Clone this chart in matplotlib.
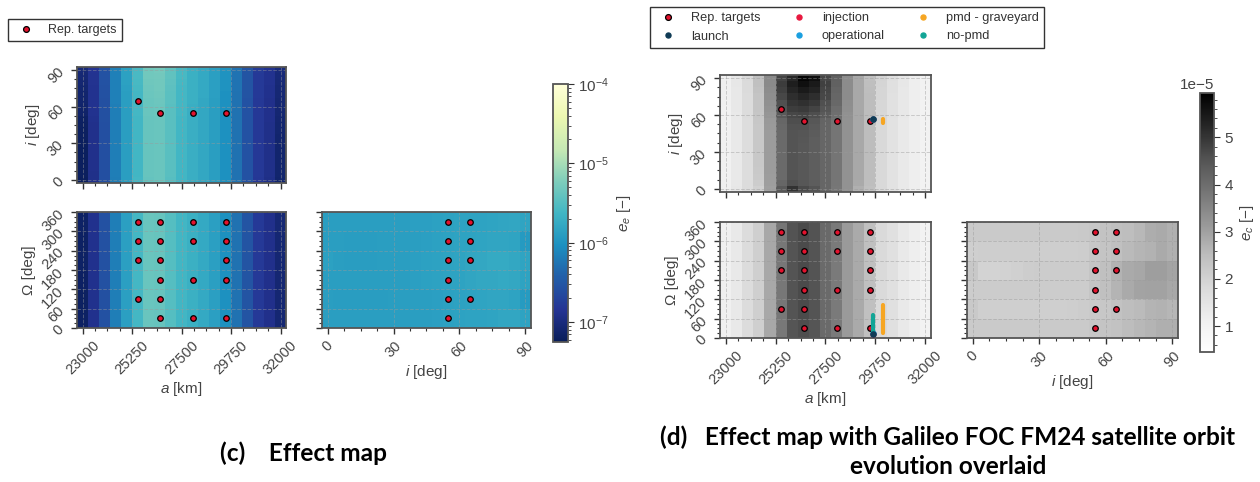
import numpy as np
import matplotlib
matplotlib.use("Agg")
import matplotlib.pyplot as plt
from matplotlib.colors import LogNorm, Normalize
from matplotlib.ticker import AutoMinorLocator
from matplotlib.lines import Line2D

# ---------------- data ----------------
A_KM = [23000, 23500, 24000, 24500, 25000, 25500, 26000, 26500, 27000, 27500,
        28000, 28500, 29000, 29500, 30000, 30500, 31000, 31500, 32000]
INC_DEG = [0, 5, 10, 15, 20, 25, 30, 35, 40, 45, 50, 55, 60, 65, 70, 75, 80, 85, 90]
RAAN_DEG = [30, 90, 150, 210, 270, 330]

A_TICKS = [23000, 25250, 27500, 29750, 32000]
I_TICKS = [0, 30, 60, 90]
RAAN_TICKS = [0, 60, 120, 180, 240, 300, 360]

# representative targets
REP_AI_A = [25508, 26510, 28000, 29520]
REP_AI_I = [64.8, 55.0, 55.0, 55.0]
REP_AO_A = [25508, 25508, 25508, 25508,
            26510, 26510, 26510, 26510, 26510, 26510,
            28000, 28000, 28000, 28000,
            29520, 29520, 29520, 29520, 29520]
REP_AO_O = [90, 210, 270, 330,
            30, 90, 150, 210, 270, 330,
            30, 150, 270, 330,
            30, 150, 210, 270, 330]
REP_IO_I = [55, 55, 55, 55, 55, 55, 64.8, 64.8, 64.8, 64.8]
REP_IO_O = [30, 90, 150, 210, 270, 330, 90, 210, 270, 330]

# (c) effect map, log10(e_e); rows = inclination (0..90), cols = a
EE_AI_LOG = [
    [-7.22, -6.91, -6.58, -6.19, -5.89, -5.61, -5.39, -5.37, -5.48, -5.62, -5.71, -5.78, -5.88, -6.03, -6.28, -6.55, -6.81, -6.92, -7.12],
    [-7.21, -6.91, -6.58, -6.18, -5.89, -5.62, -5.38, -5.36, -5.47, -5.62, -5.71, -5.78, -5.88, -6.02, -6.28, -6.54, -6.80, -6.91, -7.11],
    [-7.21, -6.90, -6.58, -6.18, -5.89, -5.62, -5.38, -5.36, -5.47, -5.62, -5.71, -5.78, -5.88, -6.02, -6.28, -6.54, -6.80, -6.91, -7.10],
    [-7.21, -6.90, -6.58, -6.18, -5.89, -5.62, -5.38, -5.36, -5.47, -5.62, -5.71, -5.78, -5.88, -6.02, -6.28, -6.54, -6.80, -6.91, -7.10],
    [-7.20, -6.90, -6.58, -6.18, -5.89, -5.62, -5.38, -5.36, -5.47, -5.62, -5.71, -5.78, -5.88, -6.02, -6.28, -6.54, -6.80, -6.91, -7.10],
    [-7.20, -6.90, -6.58, -6.18, -5.89, -5.62, -5.38, -5.36, -5.47, -5.62, -5.71, -5.78, -5.88, -6.02, -6.28, -6.54, -6.80, -6.91, -7.10],
    [-7.20, -6.90, -6.58, -6.18, -5.89, -5.62, -5.38, -5.36, -5.47, -5.62, -5.71, -5.78, -5.88, -6.02, -6.28, -6.54, -6.80, -6.91, -7.10],
    [-7.19, -6.90, -6.58, -6.18, -5.89, -5.62, -5.38, -5.36, -5.47, -5.62, -5.71, -5.78, -5.88, -6.02, -6.28, -6.54, -6.80, -6.91, -7.10],
    [-7.19, -6.90, -6.58, -6.18, -5.89, -5.62, -5.38, -5.36, -5.47, -5.62, -5.71, -5.78, -5.88, -6.02, -6.28, -6.54, -6.80, -6.91, -7.09],
    [-7.18, -6.90, -6.58, -6.18, -5.89, -5.62, -5.38, -5.36, -5.47, -5.62, -5.71, -5.78, -5.88, -6.02, -6.28, -6.54, -6.80, -6.91, -7.09],
    [-7.17, -6.89, -6.57, -6.18, -5.89, -5.62, -5.38, -5.36, -5.47, -5.62, -5.71, -5.78, -5.88, -6.02, -6.28, -6.54, -6.80, -6.90, -7.08],
    [-7.13, -6.88, -6.57, -6.18, -5.89, -5.61, -5.37, -5.35, -5.46, -5.61, -5.71, -5.78, -5.88, -6.02, -6.28, -6.54, -6.80, -6.90, -7.07],
    [-7.12, -6.88, -6.57, -6.18, -5.89, -5.61, -5.37, -5.35, -5.46, -5.61, -5.71, -5.78, -5.88, -6.02, -6.28, -6.54, -6.80, -6.90, -7.07],
    [-7.11, -6.88, -6.57, -6.17, -5.88, -5.60, -5.36, -5.34, -5.45, -5.61, -5.70, -5.78, -5.88, -6.02, -6.28, -6.54, -6.80, -6.90, -7.06],
    [-7.10, -6.87, -6.56, -6.17, -5.88, -5.60, -5.35, -5.33, -5.45, -5.60, -5.70, -5.77, -5.87, -6.02, -6.28, -6.53, -6.79, -6.89, -7.05],
    [-7.09, -6.87, -6.56, -6.17, -5.87, -5.59, -5.34, -5.32, -5.44, -5.60, -5.70, -5.77, -5.87, -6.01, -6.27, -6.53, -6.79, -6.89, -7.05],
    [-7.07, -6.86, -6.55, -6.16, -5.86, -5.58, -5.33, -5.31, -5.43, -5.59, -5.69, -5.77, -5.87, -6.01, -6.27, -6.53, -6.79, -6.88, -7.04],
    [-7.05, -6.86, -6.55, -6.16, -5.86, -5.57, -5.32, -5.30, -5.42, -5.58, -5.69, -5.77, -5.87, -6.01, -6.27, -6.53, -6.79, -6.88, -7.03],
    [-7.04, -6.85, -6.55, -6.16, -5.86, -5.57, -5.31, -5.29, -5.42, -5.58, -5.69, -5.77, -5.87, -6.01, -6.27, -6.53, -6.78, -6.88, -7.02],
]
# rows = RAAN (30..330), cols = a
EE_AO_LOG = [
    [-7.17, -6.89, -6.56, -6.18, -5.87, -5.60, -5.37, -5.38, -5.49, -5.62, -5.70, -5.77, -5.87, -6.02, -6.28, -6.53, -6.79, -6.90, -7.06],
    [-7.18, -6.89, -6.57, -6.18, -5.87, -5.60, -5.37, -5.38, -5.49, -5.62, -5.70, -5.77, -5.87, -6.02, -6.28, -6.53, -6.79, -6.90, -7.07],
    [-7.17, -6.89, -6.56, -6.18, -5.87, -5.60, -5.37, -5.38, -5.49, -5.62, -5.70, -5.77, -5.87, -6.02, -6.28, -6.53, -6.79, -6.90, -7.06],
    [-7.16, -6.89, -6.56, -6.18, -5.87, -5.60, -5.37, -5.38, -5.49, -5.62, -5.70, -5.77, -5.87, -6.02, -6.28, -6.53, -6.79, -6.90, -7.06],
    [-7.17, -6.89, -6.56, -6.18, -5.87, -5.60, -5.37, -5.38, -5.49, -5.62, -5.70, -5.77, -5.87, -6.02, -6.28, -6.53, -6.79, -6.90, -7.06],
    [-7.16, -6.89, -6.56, -6.18, -5.87, -5.60, -5.37, -5.38, -5.49, -5.62, -5.70, -5.77, -5.87, -6.02, -6.28, -6.53, -6.79, -6.90, -7.05],
]
# rows = RAAN (30..330), cols = inclination
EE_IO_LOG = [
    [-5.88, -5.88, -5.89, -5.89, -5.89, -5.89, -5.89, -5.89, -5.88, -5.88, -5.87, -5.86, -5.85, -5.84, -5.83, -5.82, -5.80, -5.80, -5.84],
    [-5.89, -5.90, -5.90, -5.90, -5.90, -5.90, -5.89, -5.89, -5.88, -5.88, -5.87, -5.86, -5.85, -5.84, -5.82, -5.81, -5.81, -5.83, -5.92],
    [-5.88, -5.89, -5.89, -5.89, -5.89, -5.89, -5.88, -5.88, -5.87, -5.86, -5.85, -5.84, -5.83, -5.81, -5.79, -5.78, -5.77, -5.78, -5.84],
    [-5.86, -5.88, -5.90, -5.90, -5.90, -5.89, -5.89, -5.88, -5.87, -5.86, -5.85, -5.84, -5.82, -5.80, -5.78, -5.76, -5.76, -5.78, -5.82],
    [-5.89, -5.89, -5.90, -5.90, -5.90, -5.89, -5.89, -5.88, -5.88, -5.87, -5.86, -5.85, -5.84, -5.83, -5.82, -5.81, -5.81, -5.82, -5.93],
    [-5.88, -5.88, -5.89, -5.89, -5.89, -5.89, -5.88, -5.88, -5.87, -5.87, -5.86, -5.85, -5.84, -5.83, -5.83, -5.82, -5.81, -5.80, -5.82],
]
EE_RANGE = [10 ** -7.25, 1e-4]

# (d) effect map, e_c in units of 1e-5; rows = inclination (0..90), cols = a
EC_AI_E5 = [
    [1.14, 1.40, 1.75, 2.04, 3.02, 4.40, 5.04, 4.69, 4.51, 4.15, 3.80, 3.27, 2.74, 2.44, 1.84, 1.55, 1.37, 1.20, 1.04],
    [1.12, 1.38, 1.72, 2.15, 3.05, 4.15, 4.60, 4.45, 4.35, 4.15, 3.82, 3.27, 2.84, 2.48, 1.84, 1.55, 1.37, 1.20, 1.04],
    [1.10, 1.37, 1.70, 2.20, 3.08, 4.07, 4.51, 4.42, 4.32, 4.15, 3.84, 3.27, 2.88, 2.51, 1.84, 1.55, 1.37, 1.20, 1.04],
    [1.10, 1.37, 1.70, 2.22, 3.10, 4.07, 4.51, 4.42, 4.32, 4.15, 3.84, 3.27, 2.88, 2.51, 1.84, 1.55, 1.37, 1.20, 1.04],
    [1.10, 1.37, 1.70, 2.24, 3.10, 4.07, 4.51, 4.42, 4.32, 4.15, 3.84, 3.27, 2.88, 2.51, 1.84, 1.55, 1.37, 1.20, 1.04],
    [1.10, 1.37, 1.70, 2.24, 3.10, 4.07, 4.51, 4.42, 4.32, 4.15, 3.84, 3.27, 2.88, 2.51, 1.84, 1.55, 1.37, 1.20, 1.04],
    [1.10, 1.37, 1.70, 2.24, 3.10, 4.07, 4.51, 4.42, 4.32, 4.15, 3.84, 3.27, 2.88, 2.51, 1.84, 1.55, 1.37, 1.20, 1.04],
    [1.10, 1.37, 1.70, 2.24, 3.10, 4.07, 4.51, 4.42, 4.32, 4.15, 3.84, 3.27, 2.88, 2.51, 1.84, 1.55, 1.37, 1.20, 1.04],
    [1.10, 1.37, 1.70, 2.24, 3.10, 4.07, 4.51, 4.44, 4.33, 4.15, 3.84, 3.27, 2.88, 2.51, 1.84, 1.55, 1.37, 1.20, 1.04],
    [1.10, 1.37, 1.70, 2.24, 3.10, 4.07, 4.52, 4.48, 4.36, 4.15, 3.84, 3.27, 2.88, 2.51, 1.84, 1.55, 1.37, 1.20, 1.04],
    [1.10, 1.37, 1.70, 2.24, 3.12, 4.10, 4.56, 4.55, 4.40, 4.17, 3.85, 3.27, 2.88, 2.51, 1.84, 1.55, 1.37, 1.20, 1.04],
    [1.10, 1.37, 1.71, 2.26, 3.15, 4.15, 4.63, 4.63, 4.44, 4.20, 3.88, 3.28, 2.88, 2.51, 1.85, 1.56, 1.37, 1.20, 1.04],
    [1.11, 1.37, 1.72, 2.28, 3.20, 4.40, 4.72, 4.77, 4.63, 4.40, 3.95, 3.30, 2.88, 2.51, 1.86, 1.57, 1.38, 1.20, 1.05],
    [1.11, 1.38, 1.73, 2.30, 3.25, 4.50, 4.87, 4.93, 4.78, 4.50, 4.00, 3.33, 2.88, 2.51, 1.87, 1.58, 1.38, 1.21, 1.05],
    [1.12, 1.38, 1.74, 2.32, 3.30, 4.60, 5.00, 5.08, 4.96, 4.60, 4.10, 3.36, 2.88, 2.51, 1.88, 1.59, 1.38, 1.21, 1.05],
    [1.12, 1.39, 1.75, 2.35, 3.35, 4.72, 5.12, 5.25, 5.12, 4.72, 4.15, 3.39, 2.88, 2.51, 1.89, 1.60, 1.39, 1.21, 1.05],
    [1.13, 1.39, 1.76, 2.40, 3.40, 4.84, 5.24, 5.46, 5.31, 4.77, 4.20, 3.40, 2.88, 2.48, 1.90, 1.61, 1.39, 1.22, 1.05],
    [1.13, 1.40, 1.77, 2.44, 3.43, 4.90, 5.38, 5.64, 5.46, 4.84, 4.25, 3.40, 2.88, 2.46, 1.92, 1.62, 1.40, 1.22, 1.06],
    [1.14, 1.40, 1.78, 2.44, 3.43, 4.77, 5.21, 5.85, 5.64, 4.72, 4.28, 3.39, 2.88, 2.44, 1.94, 1.63, 1.40, 1.22, 1.06],
]
# rows = RAAN (30..330), cols = a
EC_AO_E5 = [
    [1.14, 1.37, 1.75, 2.06, 2.88, 3.78, 4.50, 4.62, 4.49, 4.07, 3.75, 3.12, 2.85, 2.44, 1.79, 1.62, 1.37, 1.20, 1.04],
    [1.14, 1.37, 1.75, 2.06, 2.88, 3.80, 4.51, 4.66, 4.51, 4.07, 3.75, 3.12, 2.85, 2.44, 1.79, 1.62, 1.37, 1.20, 1.04],
    [1.14, 1.37, 1.75, 2.06, 2.88, 3.80, 4.51, 4.66, 4.51, 4.07, 3.75, 3.12, 2.85, 2.44, 1.79, 1.62, 1.37, 1.20, 1.04],
    [1.14, 1.37, 1.75, 2.06, 2.88, 3.80, 4.51, 4.66, 4.51, 4.07, 3.75, 3.12, 2.85, 2.44, 1.79, 1.62, 1.37, 1.20, 1.04],
    [1.14, 1.37, 1.75, 2.06, 2.88, 3.80, 4.51, 4.66, 4.51, 4.07, 3.75, 3.12, 2.85, 2.44, 1.79, 1.62, 1.37, 1.20, 1.04],
    [1.14, 1.37, 1.75, 2.06, 2.88, 3.82, 4.53, 4.68, 4.53, 4.09, 3.76, 3.12, 2.85, 2.44, 1.79, 1.62, 1.37, 1.20, 1.04],
]
# rows = RAAN (30..330), cols = inclination
EC_IO_E5 = [
    [2.19, 2.19, 2.19, 2.19, 2.19, 2.19, 2.19, 2.19, 2.19, 2.19, 2.19, 2.27, 2.34, 2.40, 2.52, 2.60, 2.68, 2.76, 2.76],
    [2.22, 2.06, 2.06, 2.06, 2.06, 2.06, 2.06, 2.06, 2.06, 2.08, 2.14, 2.20, 2.26, 2.40, 2.48, 2.55, 2.66, 2.72, 2.62],
    [2.14, 2.14, 2.14, 2.14, 2.14, 2.14, 2.14, 2.14, 2.14, 2.14, 2.16, 2.30, 2.44, 2.66, 2.84, 2.96, 3.00, 3.00, 2.88],
    [2.24, 1.98, 1.98, 2.00, 2.04, 2.12, 2.14, 2.14, 2.14, 2.14, 2.16, 2.30, 2.44, 2.70, 2.84, 2.90, 3.06, 3.06, 2.94],
    [2.06, 2.08, 2.08, 2.08, 2.08, 2.08, 2.08, 2.08, 2.08, 2.08, 2.12, 2.26, 2.34, 2.44, 2.56, 2.64, 2.72, 2.84, 2.74],
    [2.19, 2.19, 2.19, 2.19, 2.19, 2.19, 2.19, 2.19, 2.19, 2.19, 2.21, 2.26, 2.38, 2.44, 2.48, 2.60, 2.80, 2.84, 2.74],
]
EC_RANGE_E5 = [0.45, 5.94]

# Galileo FOC FM24 orbit evolution
LAUNCH_A, LAUNCH_I, LAUNCH_O = [29630], [56.6], [12]
INJ_A, INJ_I, INJ_O = [29630], [56.4], [13]
OPS_A, OPS_I, OPS_O = [29630], [56.5], [14]
PMD_A, PMD_I, PMD_O = [30080, 30080], [53.5, 56.5], [16, 102]
NOPMD_A, NOPMD_I, NOPMD_O = [29630, 29630], [56.5, 56.5], [22, 72]

# ---------------- style ----------------
plt.rcParams["font.family"] = ["Liberation Sans", "DejaVu Sans"]
plt.rcParams["mathtext.fontset"] = "custom"
plt.rcParams["mathtext.rm"] = "Liberation Sans"
plt.rcParams["mathtext.it"] = "Liberation Sans:italic"
plt.rcParams["mathtext.bf"] = "Liberation Sans:bold"
plt.rcParams["axes.unicode_minus"] = True

TXT = "#444444"
SPINE = "#555555"
C_REP = "#e3122d"
C_LAUNCH = "#0f3b55"
C_INJ = "#e8183f"
C_OPS = "#1a9fe0"
C_PMD = "#f6a623"
C_NOPMD = "#12a596"

W, H = 1260, 482
fig = plt.figure(figsize=(W / 100, H / 100), dpi=100)


def box(x0, y0, x1, y1):
    return [x0 / W, 1 - y1 / H, (x1 - x0) / W, (y1 - y0) / H]


def style(ax, xt, yt, xlab, ylab, xlabel=None, ylabel=None):
    ax.set_xticks(xt)
    ax.set_yticks(yt)
    ax.xaxis.set_minor_locator(AutoMinorLocator())
    ax.yaxis.set_minor_locator(AutoMinorLocator())
    ax.tick_params(which="major", length=4, width=1.0, color="#333333",
                   labelsize=10.5, labelcolor=TXT)
    ax.tick_params(which="minor", length=2.3, width=0.8, color="#333333")
    ax.tick_params(axis="x", labelrotation=45, labelbottom=xlab)
    ax.tick_params(axis="y", labelrotation=45, labelleft=ylab)
    ax.grid(True, which="major", ls="--", lw=0.7, color="#9a9a9a", alpha=0.45)
    for s in ax.spines.values():
        s.set_color(SPINE)
        s.set_linewidth(1.3)
    if xlabel:
        ax.set_xlabel(xlabel, fontsize=11, color=TXT, labelpad=2)
    if ylabel:
        ax.set_ylabel(ylabel, fontsize=11, color=TXT, labelpad=2)


def rep(ax, x, y):
    return ax.scatter(x, y, s=16, c=C_REP, edgecolors="black", linewidths=0.9,
                      zorder=3, label="Rep. targets")


# ---------------- (c) ----------------
norm_c = LogNorm(vmin=EE_RANGE[0], vmax=EE_RANGE[1])
cm_c = "YlGnBu_r"

ax1 = fig.add_axes(box(77, 67, 286, 183))
ax1.pcolormesh(A_KM, INC_DEG, 10 ** np.array(EE_AI_LOG), cmap=cm_c, norm=norm_c, shading="nearest")
rep(ax1, REP_AI_A, REP_AI_I)
style(ax1, A_TICKS, I_TICKS, False, True, ylabel="$i$ [deg]")

ax2 = fig.add_axes(box(77, 212, 286, 328))
ax2.pcolormesh(A_KM, RAAN_DEG, 10 ** np.array(EE_AO_LOG), cmap=cm_c, norm=norm_c, shading="nearest")
ax2.set_ylim(0, 360)
rep(ax2, REP_AO_A, REP_AO_O)
style(ax2, A_TICKS, RAAN_TICKS, True, True, xlabel="$a$ [km]", ylabel="Ω [deg]")

ax3 = fig.add_axes(box(322, 212, 531, 328))
mc = ax3.pcolormesh(INC_DEG, RAAN_DEG, 10 ** np.array(EE_IO_LOG), cmap=cm_c, norm=norm_c, shading="nearest")
ax3.set_ylim(0, 360)
rep(ax3, REP_IO_I, REP_IO_O)
style(ax3, I_TICKS, RAAN_TICKS, True, False, xlabel="$i$ [deg]")

cax_c = fig.add_axes(box(553, 84, 568, 342))
cb_c = fig.colorbar(mc, cax=cax_c)
cb_c.set_label("$e_e$ [$-$]", fontsize=11, color=TXT, labelpad=4)
cb_c.ax.tick_params(which="major", labelsize=11, labelcolor=TXT, length=4, color="#333333")
cb_c.ax.tick_params(which="minor", length=2, color="#333333")
cb_c.outline.set_edgecolor(SPINE)
cb_c.outline.set_linewidth(1.3)

fig.legend(handles=[Line2D([], [], ls="none", marker="o", ms=4.2, mfc=C_REP, mec="black", mew=0.9)],
           labels=["Rep. targets"], loc="upper left", bbox_to_anchor=(8 / W, 1 - 19 / H),
           borderaxespad=0, fontsize=9, frameon=True, fancybox=False, edgecolor="#333333",
           framealpha=1, labelcolor="#333333")

# ---------------- (d) ----------------
norm_d = Normalize(vmin=EC_RANGE_E5[0] * 1e-5, vmax=EC_RANGE_E5[1] * 1e-5)
cm_d = "Greys"

bx1 = fig.add_axes(box(720, 75, 931, 192))
bx1.pcolormesh(A_KM, INC_DEG, np.array(EC_AI_E5) * 1e-5, cmap=cm_d, norm=norm_d, shading="nearest")
rep(bx1, REP_AI_A, REP_AI_I)
bx1.plot(PMD_A, PMD_I, color=C_PMD, lw=3, solid_capstyle="round", zorder=4)
bx1.scatter(INJ_A, INJ_I, s=12, c=C_INJ, zorder=4)
bx1.scatter(OPS_A, OPS_I, s=12, c=C_OPS, zorder=4)
bx1.scatter(LAUNCH_A, LAUNCH_I, s=14, c=C_LAUNCH, zorder=5)
style(bx1, A_TICKS, I_TICKS, False, True, ylabel="$i$ [deg]")

bx2 = fig.add_axes(box(720, 222, 931, 338))
bx2.pcolormesh(A_KM, RAAN_DEG, np.array(EC_AO_E5) * 1e-5, cmap=cm_d, norm=norm_d, shading="nearest")
bx2.set_ylim(0, 360)
rep(bx2, REP_AO_A, REP_AO_O)
bx2.scatter(INJ_A, INJ_O, s=12, c=C_INJ, zorder=4)
bx2.scatter(OPS_A, OPS_O, s=12, c=C_OPS, zorder=4)
bx2.plot(PMD_A, PMD_O, color=C_PMD, lw=3, solid_capstyle="round", zorder=4)
bx2.plot(NOPMD_A, NOPMD_O, color=C_NOPMD, lw=3, solid_capstyle="round", zorder=4)
bx2.scatter(LAUNCH_A, LAUNCH_O, s=14, c=C_LAUNCH, zorder=5)
style(bx2, A_TICKS, RAAN_TICKS, True, True, xlabel="$a$ [km]", ylabel="Ω [deg]")

bx3 = fig.add_axes(box(967, 222, 1178, 338))
md = bx3.pcolormesh(INC_DEG, RAAN_DEG, np.array(EC_IO_E5) * 1e-5, cmap=cm_d, norm=norm_d, shading="nearest")
bx3.set_ylim(0, 360)
rep(bx3, REP_IO_I, REP_IO_O)
style(bx3, I_TICKS, RAAN_TICKS, True, False, xlabel="$i$ [deg]")

cax_d = fig.add_axes(box(1200, 93, 1214, 352))
cb_d = fig.colorbar(md, cax=cax_d)
cb_d.ax.minorticks_on()
cb_d.set_label("$e_c$ [$-$]", fontsize=11, color=TXT, labelpad=4)
cb_d.ax.tick_params(which="major", labelsize=11, labelcolor=TXT, length=4, color="#333333")
cb_d.ax.tick_params(which="minor", length=2, color="#333333")
cb_d.ax.yaxis.get_offset_text().set_fontsize(11)
cb_d.ax.yaxis.get_offset_text().set_color(TXT)
cb_d.outline.set_edgecolor(SPINE)
cb_d.outline.set_linewidth(1.3)

h_rep = Line2D([], [], ls="none", marker="o", ms=4.2, mfc=C_REP, mec="black", mew=0.9)
h_launch = Line2D([], [], ls="none", marker="o", ms=3.6, mfc=C_LAUNCH, mec=C_LAUNCH)
h_inj = Line2D([], [], ls="none", marker="o", ms=3.6, mfc=C_INJ, mec=C_INJ)
h_ops = Line2D([], [], ls="none", marker="o", ms=3.6, mfc=C_OPS, mec=C_OPS)
h_pmd = Line2D([], [], ls="none", marker="o", ms=3.6, mfc=C_PMD, mec=C_PMD)
h_nopmd = Line2D([], [], ls="none", marker="o", ms=3.6, mfc=C_NOPMD, mec=C_NOPMD)
fig.legend(handles=[h_rep, h_launch, h_inj, h_ops, h_pmd, h_nopmd],
           labels=["Rep. targets", "launch", "injection", "operational", "pmd - graveyard", "no-pmd"],
           ncol=3, loc="upper left", bbox_to_anchor=(650 / W, 1 - 7 / H),
           borderaxespad=0, fontsize=9.2, frameon=True, fancybox=False, edgecolor="#333333",
           framealpha=1, labelcolor="#333333")

# ---------------- captions ----------------
cap = dict(ha="center", va="center", fontsize=17.6, fontweight="bold",
           family=["Lato", "DejaVu Sans"], color="black")
fig.text(303 / W, 1 - 453 / H, "(c)    Effect map", **cap)
fig.text(948 / W, 1 - 437 / H, "(d)   Effect map with Galileo FOC FM24 satellite orbit", **cap)
fig.text(948 / W, 1 - 466 / H, "evolution overlaid", **cap)

fig.savefig("out.png", dpi=100)
